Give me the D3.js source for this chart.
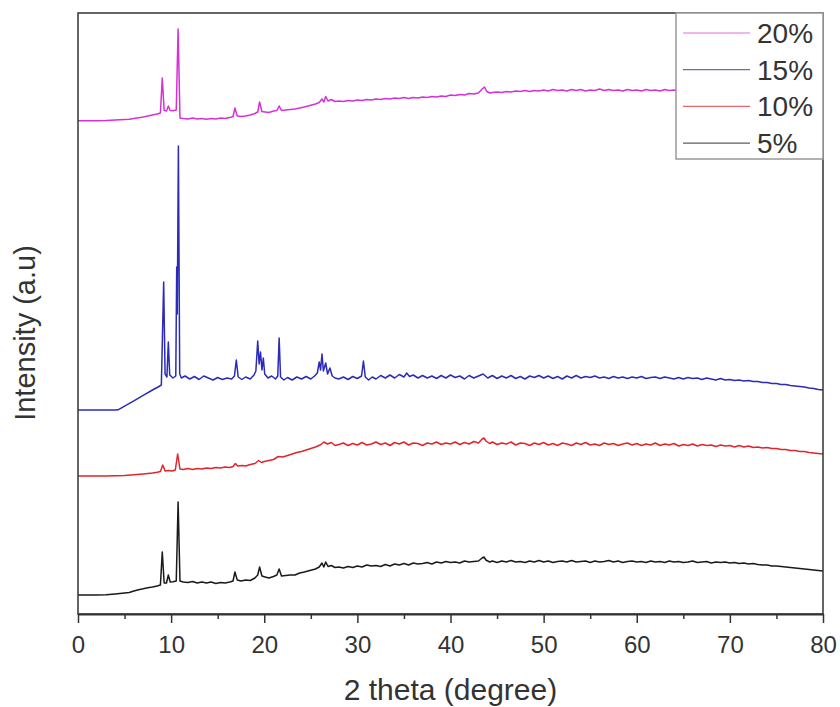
<!DOCTYPE html>
<html>
<head>
<meta charset="utf-8">
<script src="https://cdn.jsdelivr.net/npm/d3@7"></script>
<style>
  body { margin: 0; background: #fff; }
  .chart text { font-family: "Liberation Sans", Arial, sans-serif; fill: #333; }
  .axis path, .axis line { stroke: #333; }
</style>
</head>
<body>
<div class="chart"></div>
<script>
// Difractogramas: [2 theta, intensidad (u.a.)], ya desplazados en vertical
var serie5 = [
[0,19],[1,19],[2,19],[3,19.2],[4,20],[5,21],[5.5,21.5],[6,23],[6.5,24.3],[7,25.2],[7.5,26.3],[8,27],[8.5,28],[8.85,29],[9.05,62],[9.25,31],[9.5,31],[9.7,39],[9.9,32],[10.2,32.3],[10.55,33],[10.75,112],[10.95,33],[11.3,32],[11.8,31.5],[12.3,32.5],[12.8,31],[13.3,32],[13.8,31],[14.3,32],[14.8,30.5],[15.3,31.5],[15.8,31],[16.3,32],[16.65,33],[16.85,42],[17.1,34],[17.5,33],[18,34],[18.5,33.5],[19,36],[19.3,39],[19.5,47],[19.75,38],[20.1,37],[20.5,36],[21,37.5],[21.35,39],[21.6,45],[21.85,38],[22.3,38.5],[22.8,39],[23.3,39],[23.8,41],[24.3,42],[24.7,43],[25.1,44],[25.5,45],[25.9,47],[26.2,51],[26.4,47],[26.6,52],[26.85,47.5],[27.2,48.5],[27.6,46.5],[28,47],[28.5,46],[29,47.5],[29.5,46.5],
[30,48],[30.5,47],[31,49],[31.5,48],[32,48.5],[32.5,47.5],[33,49.5],[33.5,48],[34,50],[34.5,49],[35,50.5],[35.5,49],[36,51],[36.5,50],[37,50.5],[37.5,51.5],[38,50],[38.5,52],[39,51],[39.5,52.5],[40,51.5],[40.5,52],[41,51],[41.5,53],[42,52],[42.5,52.5],[43,53],[43.4,56],[43.6,57],[43.8,54],[44.2,52],[44.5,53],[45,51.5],[45.5,53],[46,52],[46.5,53.5],[47,52],[47.5,52.5],[48,51.5],[48.5,53],[49,52],[49.5,53.5],[50,52],[50.5,53],[51,51.5],[51.5,52.5],[52,53],[52.5,52],[53,53.5],[53.5,52],[54,52.5],[54.5,53],[55,51.5],[55.5,53],[56,52],[56.5,52.5],[57,53.5],[57.5,52],[58,53],[58.5,51.5],[59,52.5],[59.5,53],[60,52],[60.5,52.5],[61,51.5],[61.5,53],[62,52],[62.5,52.5],[63,51.5],[63.5,53],[64,52],[64.5,52.5],[65,51.5],[65.5,52],[66,53],[66.5,51.5],[67,52],[67.5,52.5],[68,51],[68.5,52],[69,51.5],[69.5,52],[70,51],[70.5,51.5],[71,50.5],[71.5,51],[72,50],[72.5,50.5],[73,49.5],[73.5,49],[74,49],[74.5,48],[75,48],[75.5,47.5],[76,47],[76.5,46.5],[77,46],[77.5,45.5],[78,45],[78.5,44.5],[79,44],[79.5,43.5],[80,43]
];

var serie10 = [
[0,138],[1,138],[2,138],[3,138],[4,138.3],[5,138.6],[6,139.2],[7,140],[7.5,140.5],[8,141],[8.5,141.8],[8.85,142.5],[9.1,149],[9.35,143],[9.7,143.5],[10.1,143],[10.45,144],[10.7,160],[10.95,145],[11.3,144.5],[11.8,145.5],[12.3,144.5],[12.8,145.5],[13.3,145],[13.8,146],[14.3,145.5],[14.8,146.5],[15.3,146],[15.8,147],[16.3,146.5],[16.65,147.5],[16.9,150.5],[17.15,148],[17.6,148.5],[18,148],[18.5,149.5],[19,150.5],[19.4,153.5],[19.7,151.5],[20,152.5],[20.5,153.5],[21,154.5],[21.5,157.5],[22,157],[22.5,158.5],[23,160],[23.5,161.5],[24,162.5],[24.5,164],[25,165.5],[25.5,167],[26,169],[26.4,172],[26.8,170],[27.2,171.5],[27.6,168.5],
[28,169.5],[28.5,171],[29,168.5],[29.5,170.5],[30,169],[30.5,171.5],[31,169],[31.5,170],[32,172],[32.5,169.5],[33,171],[33.5,168.5],[34,171.5],[34.5,170],[35,172],[35.5,169],[36,171],[36.5,170.5],[37,168.5],[37.5,171],[38,170],[38.5,172],[39,169.5],[39.5,171],[40,170],[40.5,172],[41,169.5],[41.5,171.5],[42,170],[42.5,172.5],[43,171],[43.4,175],[43.6,176],[43.8,173],[44.2,170.5],[44.5,172],[45,169.5],[45.5,171],[46,170],[46.5,172],[47,169],[47.5,171],[48,170.5],[48.5,168.5],[49,171],[49.5,169.5],[50,171.5],[50.5,169],[51,170.5],[51.5,168.5],[52,171],[52.5,170],[53,168.5],[53.5,171],[54,169.5],[54.5,171.5],[55,169],[55.5,170],[56,168.5],[56.5,171],[57,169.5],[57.5,170.5],[58,168.5],[58.5,170],[59,171],[59.5,169],[60,170.5],[60.5,168.5],[61,170],[61.5,169],[62,171],[62.5,168.5],[63,170],[63.5,169],[64,170.5],[64.5,168],[65,169.5],[65.5,168.5],[66,170],[66.5,168],[67,169.5],[67.5,168.5],[68,169],[68.5,167.5],[69,169],[69.5,168],[70,168.5],[70.5,167],[71,168.5],[71.5,167],[72,168],[72.5,166.5],[73,167],[73.5,166],[74,166.5],[74.5,165.5],[75,165.5],[75.5,164.5],[76,164.5],[76.5,163.5],[77,163.5],[77.5,162.5],[78,162.5],[78.5,161.5],[79,161],[79.5,160.5],[80,160]
];

var serie15 = [
[0,204],[1,204],[2,204],[3,204],[4,204],[4.3,204.2],[5,207.8],[6,213.2],[7,218.6],[8,224],[8.6,227],[8.95,229],[9.2,332],[9.35,240],[9.55,237],[9.7,272],[9.85,239],[10.2,236],[10.5,238],[10.6,347],[10.66,300],[10.78,468],[10.92,240],[11.1,236],
[11.5,238],[12,235],[12.5,237.5],[13,234.5],[13.5,238],[14,236],[14.5,234],[15,236.5],[15.5,234.5],[16,236],[16.5,235],[16.8,238],[17,254],[17.2,237],[17.6,234.5],[18,237],[18.5,235],[18.9,239],[19.1,243],[19.3,273],[19.45,250],[19.6,262],[19.75,244],[19.9,256],[20.05,240],[20.4,236],[20.8,238],[21.2,235],[21.45,238],[21.6,276],[21.75,237],[22.1,234],[22.5,236.5],[23,234],[23.5,237],[24,235],[24.5,237.5],[25,235],[25.4,238],[25.7,241],[25.9,252],[26.05,244],[26.2,260],[26.35,243],[26.6,251],[26.8,240],[27.05,246],[27.3,238],[27.6,236],[28,235],[28.5,237],[29,234.5],[29.5,237.5],[30,235.5],[30.45,238],[30.65,253],[30.85,237],[31.2,234],[31.6,237],[32,235],[32.5,238.5],[33,236],[33.5,239],[34,236],[34.5,239.5],[35,237],[35.3,241],[35.6,237.5],[36,239],[36.5,236],[37,238.5],[37.5,236],[38,238],[38.5,235.5],[39,238.5],[39.5,236],[40,239],[40.5,236.5],[41,238],[41.5,235],[42,238.5],[42.5,236],[43,238],[43.5,240],[44,236],[44.5,238.5],[45,235.5],[45.5,238],[46,236],[46.5,238.5],[47,235.5],[47.5,237.5],[48,235],[48.5,238],[49,236.5],[49.5,238.5],[50,236],[50.5,238],[51,235.5],[51.5,237.5],[52,235],[52.5,238],[53,236],[53.5,238.5],[54,236],[54.5,237.5],[55,236.5],[55.5,238],[56,236],[56.5,237],[57,235.5],[57.5,237.5],[58,236],[58.5,237],[59,235.5],[59.5,237],[60,236],[60.5,237.5],[61,235.5],[61.5,236.5],[62,237],[62.5,235.5],[63,237],[63.5,236],[64,235],[64.5,236.5],[65,235],[65.5,236.5],[66,235.5],[66.5,236],[67,234.5],[67.5,236],[68,235],[68.5,234],[69,235.5],[69.5,234],[70,234.5],[70.5,233.5],[71,234],[71.5,233],[72,233.5],[72.5,232.5],[73,232.5],[73.5,231.5],[74,231.5],[74.5,230.5],[75,230.5],[75.5,229.5],[76,229.5],[76.5,228.5],[77,228],[77.5,227.5],[78,227],[78.5,226],[79,225.5],[79.5,224.5],[80,224]
];

var serie20 = [
[0,493.3],[1,493.3],[2,493.3],[3,493.5],[4,494],[5,494.5],[5.5,494.8],[6,495.5],[6.5,496.3],[7,497],[7.5,498],[8,499],[8.5,500],[8.85,501],[9.05,536],[9.25,503.5],[9.5,503],[9.7,508],[9.9,503.5],[10.2,503.3],[10.55,504],[10.75,585],[10.95,496],[11.3,495.5],[11.8,495],[12.3,496],[12.8,495],[13.3,495.5],[13.8,494.8],[14.3,495.5],[14.8,495],[15.3,496],[15.8,495.5],[16.3,496.5],[16.65,497.5],[16.85,506],[17.1,498],[17.5,497.5],[18,498],[18.5,499],[19,500.5],[19.3,502],[19.5,512],[19.75,502.5],[20.1,502],[20.5,501.5],[21,503],[21.35,503.5],[21.6,508],[21.85,503.5],[22.3,504],[22.8,504.5],[23.3,505],[23.8,506],[24.3,507],[24.7,508],[25.1,509],[25.5,510],[25.9,511.5],[26.2,515],[26.4,512],[26.6,517.5],[26.85,513],[27.2,514.5],[27.6,512.5],[28,513],[28.5,512.5],[29,513.5],[29.5,513],
[30,514],[30.5,513.5],[31,514.5],[31.5,514],[32,515],[32.5,514.5],[33,515.5],[33.5,515],[34,516],[34.5,515.5],[35,516.5],[35.5,515.5],[36,516.5],[36.5,516],[37,517],[37.5,516.5],[38,517.5],[38.5,517],[39,518],[39.5,517.5],[40,519],[40.5,518.5],[41,519.5],[41.5,519],[42,520.5],[42.5,520],[43,521],[43.4,525],[43.65,527],[43.9,522.5],[44.2,521],[44.5,521.5],[45,522],[45.5,521.5],[46,522.5],[46.5,522],[47,523],[47.5,522.5],[48,523.5],[48.5,522.5],[49,523.5],[49.5,523],[50,524],[50.5,523],[51,524.5],[51.5,523.5],[52,524],[52.5,523],[53,524.5],[53.5,523.5],[54,524.5],[54.5,523],[55,524],[55.5,523.5],[56,525],[56.5,523.5],[57,524.5],[57.5,523.5],[58,524],[58.5,523],[59,524.5],[59.5,523.5],[60,524],[60.5,523],[61,524.5],[61.5,523.5],[62,524],[62.5,523],[63,524.5],[63.5,523.5],[64,524],[64.5,523.5],[66,523],[68,523],[70,522],[72,521],[74,520],[76,518],[78,515],[80,513]
];

var etiquetas = ["20%", "15%", "10%", "5%"];
var colores = ["#d631d6", "#2b2bb8", "#e0262c", "#1a1a1a"];
var series = [serie20, serie15, serie10, serie5];
var xTicks = [0, 10, 20, 30, 40, 50, 60, 70, 80];
var xMinor = [5, 15, 25, 35, 45, 55, 65, 75];

var margin = {top: 13, right: 17, bottom: 93, left: 78};
var w = 840 - margin.left - margin.right;
var h = 707 - margin.top - margin.bottom;

var svg = d3.select(".chart")
    .append("svg")
    .attr("width", w + margin.left + margin.right)
    .attr("height", h + margin.top + margin.bottom);

var mainG = svg.append("g")
    .attr("transform", "translate(" + margin.left + "," + margin.top + ")");

var x = d3.scaleLinear().domain([0, 80]).range([0, w]);
var y = d3.scaleLinear().domain([0, 601]).range([h, 0]);

mainG.append("clipPath").attr("id", "clip")
    .append("rect").attr("width", w).attr("height", h);

var linea = d3.line()
    .x(function(d) { return x(d[0]); })
    .y(function(d) { return y(d[1]); });

mainG.append("g").attr("clip-path", "url(#clip)")
    .selectAll(".serie")
    .data(series)
  .enter()
    .append("path")
    .attr("class", "serie")
    .attr("d", linea)
    .attr("fill", "none")
    .attr("stroke", function(d, i) { return colores[i]; })
    .attr("stroke-width", 1.5)
    .attr("stroke-linejoin", "round");

// Marco de la gráfica
mainG.append("rect")
    .attr("width", w).attr("height", h)
    .attr("fill", "none")
    .attr("stroke", "#333")
    .attr("stroke-width", 1.5);

// Eje x: marcas principales y secundarias
var xAxis = d3.axisBottom(x).tickValues(xTicks).tickSize(9).tickSizeOuter(0).tickPadding(13);
var xAxisMinor = d3.axisBottom(x).tickValues(xMinor).tickSize(5).tickSizeOuter(0).tickFormat("");

mainG.append("g")
    .attr("class", "x axis")
    .attr("transform", "translate(0," + h + ")")
    .call(xAxis)
    .call(function(g) {
      g.selectAll("line").attr("stroke-width", 1.5);
      g.select(".domain").attr("stroke-width", 1.8);
      g.selectAll("text").attr("font-size", 24).attr("fill", "#444")
        .attr("font-family", "Liberation Sans, Arial, sans-serif");
    });

mainG.append("g")
    .attr("class", "x axis")
    .attr("transform", "translate(0," + h + ")")
    .call(xAxisMinor)
    .call(function(g) {
      g.select(".domain").remove();
      g.selectAll("line").attr("stroke-width", 1.5);
    });

// Leyenda
var leyenda = mainG.append("g").attr("transform", "translate(" + (w - 147) + ",0)");
leyenda.append("rect")
    .attr("width", 147).attr("height", 146)
    .attr("fill", "#fff")
    .attr("stroke", "#999")
    .attr("stroke-width", 1.5);

var items = leyenda.selectAll(".item")
    .data(etiquetas)
  .enter()
    .append("g")
    .attr("class", "item")
    .attr("transform", function(d, i) { return "translate(0," + (20 + i * 36.7) + ")"; });

items.append("line")
    .attr("x1", 7).attr("x2", 74)
    .attr("stroke", function(d, i) { return colores[i]; })
    .attr("stroke-opacity", 0.7)
    .attr("stroke-width", 1.2);

items.append("text")
    .attr("x", 81).attr("dy", "0.36em")
    .attr("font-size", 28)
    .text(function(d) { return d; });

// Títulos de los ejes
svg.append("text")
    .attr("x", margin.left + w / 2).attr("y", 700)
    .attr("text-anchor", "middle")
    .attr("font-size", 30)
    .text("2 theta (degree)");

svg.append("text")
    .attr("transform", "translate(35,333) rotate(-90)")
    .attr("text-anchor", "middle")
    .attr("font-size", 29)
    .text("Intensity (a.u)");
</script>
</body>
</html>
